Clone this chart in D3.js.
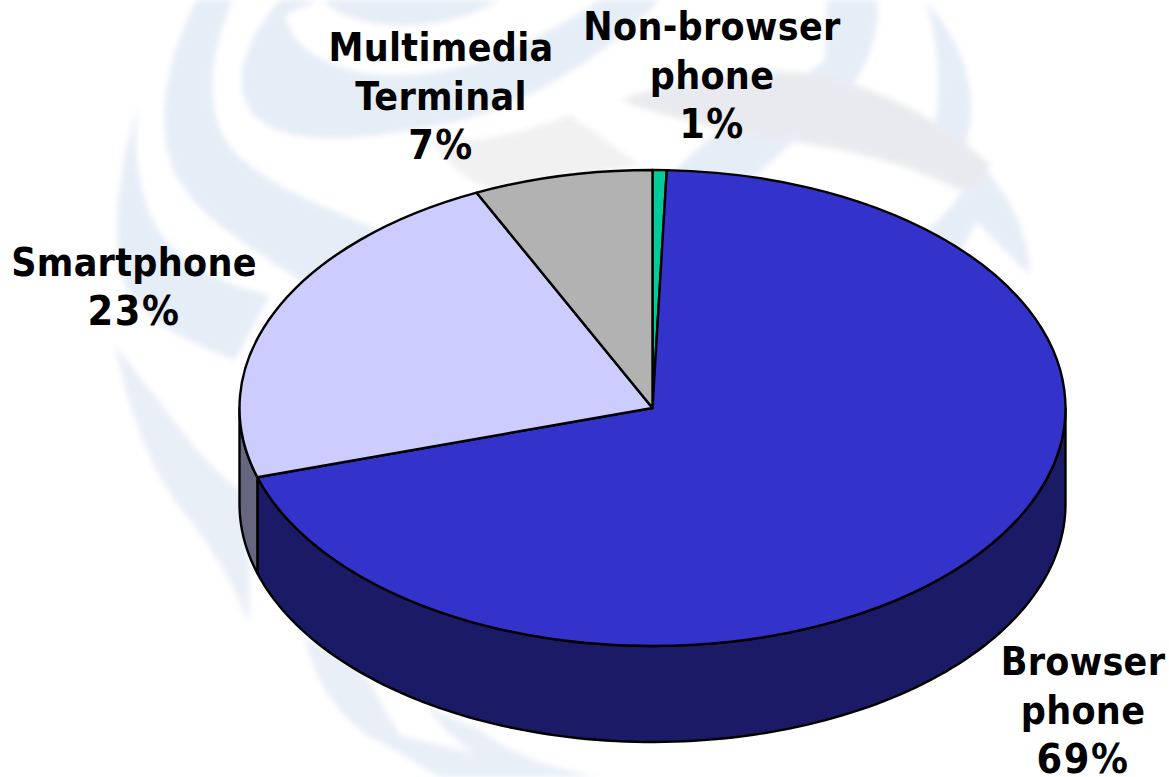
<!DOCTYPE html>
<html><head><meta charset="utf-8">
<script src="https://cdn.jsdelivr.net/npm/d3@7"></script>
<style>html,body{margin:0;padding:0;background:#fff;overflow:hidden}svg{display:block}</style>
</head><body><svg id="c" width="1169" height="777"></svg>
<script>
const categories = ["Non-browser phone","Browser phone","Smartphone","Multimedia Terminal"];
const shownPercent = [1,69,23,7];
const geometryShare = [0.55,69.75,22.7,7.0];
const topColors = ["#00cc99","#3333cc","#ccccff","#b2b2b2"];
const sideColors = ["#006650","#1a1a66","#666680","#595959"];
const labelLines = [["Non-browser","phone"],["Browser","phone"],["Smartphone"],["Multimedia","Terminal"]];
const labelCentre = [[712,40],[1083,675],[134,276],[441,61]];

const W=1169,H=777,cx=652.5,cy=408,rx=413,ry=238,depth=96,lineH=49;
const svg=d3.select("#c");
const defs=svg.append("defs");
defs.append("filter").attr("id","b").append("feGaussianBlur").attr("stdDeviation",3);

// faint background watermark
const wm=[
 ["#e5edf7","M197,0C165,60 158,120 170,160C185,210 240,240 330,300L400,240C340,210 260,190 225,140C205,105 210,50 233,0Z"],
 ["#e5edf7","M280,0C245,40 232,80 250,110C280,150 360,140 440,125C520,110 600,60 660,0L600,0C540,40 470,75 400,75C340,78 290,50 285,15L320,0Z"],
 ["#e5edf7","M322,0C350,28 420,35 480,10L500,0Z"],
 ["#e5edf7","M140,103C115,170 112,250 125,285C150,330 200,345 235,360L270,295C220,285 170,260 150,215C135,175 132,135 140,103Z"],
 ["#e8eff7","M115,345C130,420 155,480 190,520C215,550 235,590 250,625L248,495C205,470 175,420 115,345Z"],
 ["#e8eff7","M303,637C315,670 325,705 367,735C395,750 420,765 440,777L530,777C480,750 430,745 400,735C385,710 375,690 363,673L330,650Z"],
 ["#e8eff7","M427,707C445,735 480,760 510,777L600,777C560,770 520,760 480,730Z"],
 ["#e5edf7","M827,0L877,0C880,40 865,85 810,130L740,170L690,190L660,190C700,130 790,90 825,60Z"],
 ["#e5edf7","M925,0C960,40 975,80 970,125L960,180L925,170C940,120 945,60 925,0Z"],
 ["#e5edf7","M985,170C1010,195 1030,240 1030,275C1005,250 975,220 955,200Z"],
 ["#e5edf7","M957,200L985,205L935,300L890,270Z"],
 ["#e9eaef","M620,100C680,80 740,68 800,72C860,80 930,110 990,165C985,185 970,192 955,188C910,165 840,145 770,140C720,130 660,115 620,100Z"],
 ["#e5edf7","M767,143L800,135L740,190L700,190Z"],
 ["#f1f1f2","M430,140C480,145 530,130 570,115L640,165L490,190C465,180 445,160 430,140Z"]
];
svg.append("g").attr("filter","url(#b)").selectAll("path").data(wm).join("path")
   .attr("d",d=>d[1]).attr("fill",d=>d[0]);

const pieGen=d3.pie().sort(null).startAngle(0).endAngle(2*Math.PI);
const arcs=pieGen(geometryShare);
const xs=d3.scaleLinear().domain([-1,1]).range([cx-rx,cx+rx]);
const ys=d3.scaleLinear().domain([-1,1]).range([cy-ry,cy+ry]);
const px=a=>xs(Math.sin(a)), py=a=>ys(-Math.cos(a));

// side walls of the visible front half
const frontA=Math.PI/2, frontB=3*Math.PI/2;
const g=svg.append("g");
arcs.forEach((d,i)=>{
  const a0=Math.max(d.startAngle,frontA), a1=Math.min(d.endAngle,frontB);
  if(a1<=a0) return;
  const angs=d3.range(0,121).map(k=>a0+(a1-a0)*k/120);
  const top=angs.map(a=>[px(a),py(a)]);
  const bot=angs.slice().reverse().map(a=>[px(a),py(a)+depth]);
  g.append("path").attr("d",d3.line()(top.concat(bot))+"Z")
   .attr("fill",sideColors[i]).attr("stroke","#000").attr("stroke-width",2.4).attr("stroke-linejoin","round");
});

// top faces
const arcGen=d3.arc().innerRadius(0).outerRadius(rx);
svg.append("g").attr("transform",`translate(${cx},${cy}) scale(1,${ry/rx})`)
  .selectAll("path").data(arcs).join("path")
  .attr("d",arcGen).attr("fill",(d,i)=>topColors[i])
  .attr("stroke","#000").attr("stroke-width",2.4).attr("stroke-linejoin","round")
  .attr("vector-effect","non-scaling-stroke");

// labels
const t=svg.append("g").attr("font-family","'DejaVu Sans Condensed','DejaVu Sans'").attr("font-stretch","condensed").attr("font-weight","bold")
  .attr("font-size",39).attr("fill","#000").attr("text-anchor","middle");
labelLines.forEach((lines,i)=>{
  lines.forEach((s,j)=>{
    t.append("text").attr("x",labelCentre[i][0]).attr("y",labelCentre[i][1]+j*lineH)
     .attr("letter-spacing",0.3).text(s);
  });
  t.append("text").attr("x",labelCentre[i][0]).attr("y",labelCentre[i][1]+lines.length*lineH)
   .attr("font-size",41).attr("letter-spacing",1.5).text(shownPercent[i]+"%");
});
</script></body></html>
